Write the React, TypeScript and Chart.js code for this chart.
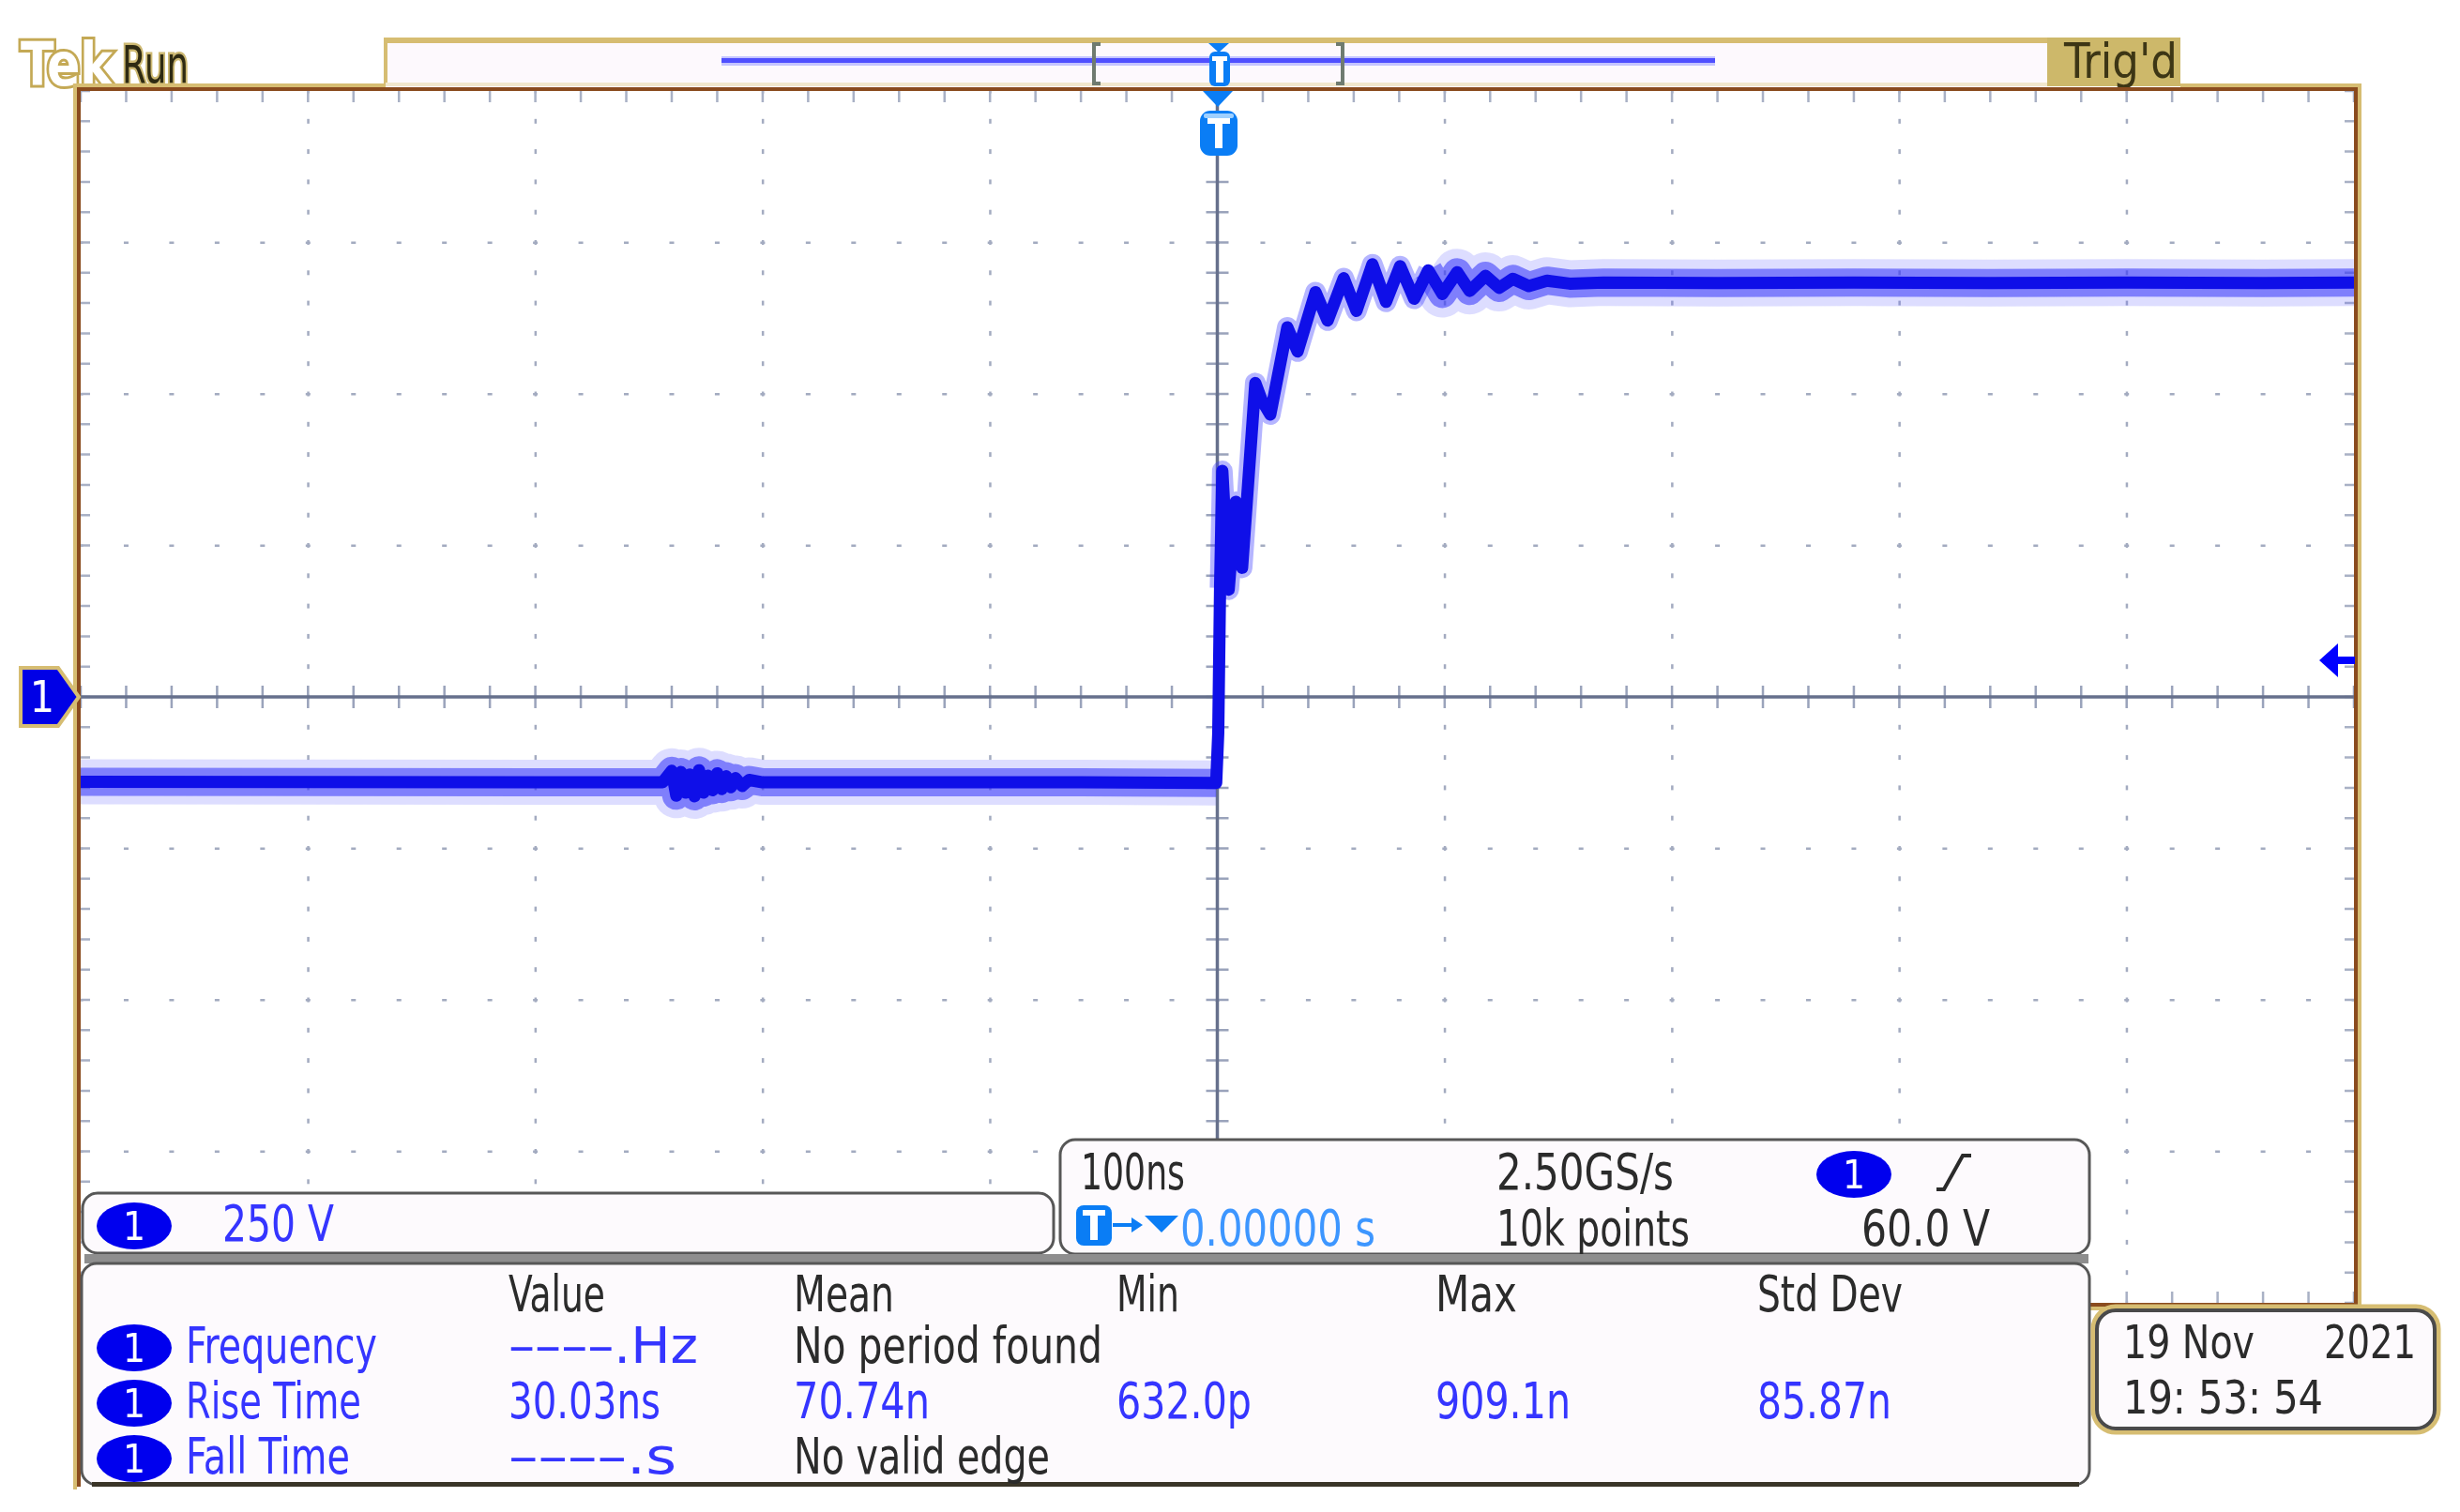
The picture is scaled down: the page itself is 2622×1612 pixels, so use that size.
import React, { useEffect, useRef } from 'react';
import { Chart, registerables } from 'chart.js';
Chart.register(...registerables);

// ---- axis setup (100 ns/div, 250 V/div) ----
const X_MIN = -500;
const X_MAX = 500;
const X_DIV = 100;
const Y_MIN = -1000;
const Y_MAX = 1000;
const Y_DIV = 250;
const TRIGGER_LEVEL = 60;

// ---- waveform (time in ns, volts) ----
const preTime = [-500, -300, -244, -240, -238, -236, -234, -232, -230, -228, -226, -224, -222, -220, -218, -216, -214, -212, -209, -206, -200, -150, -60, -0.5];
const preVolt = [-140, -141, -141, -122, -163, -124, -158, -128, -164, -121, -158, -130, -154, -126, -152, -131, -149, -134, -147, -137, -141, -141, -141, -142];

const edgeTime = [0.4, 1.2, 2.2, 5.0, 8.1, 10.9, 16.7, 19.5, 23.3, 30.8, 35.3, 43.2, 48.5, 55.6, 61.2, 68.2, 74.2, 80.4, 86.6, 92.8, 99, 105.5, 111, 118, 124, 130, 137, 145, 155];
const edgeVolt = [-60, 180, 373, 177, 322, 213, 518, 490, 466, 610, 570, 668, 621, 691, 637, 714, 652, 711, 657, 704, 665, 701, 670, 695, 675, 690, 678, 687, 682];

const postTime = [170, 220, 280, 340, 400, 460, 500];
const postVolt = [684, 683, 684, 683, 684, 683, 684];

// ---- readouts ----
const measHeaders = ['Value', 'Mean', 'Min', 'Max', 'Std Dev'];
const measLabels = ['Frequency', 'Rise Time', 'Fall Time'];
const measValue = ['––––.Hz', '30.03ns', '––––.s'];
const measMean = ['No period found', '70.74n', 'No valid edge'];
const measMin = ['', '632.0p', ''];
const measMax = ['', '909.1n', ''];
const measStd = ['', '85.87n', ''];
const chScale = '250 V';
const timeBase = '100ns';
const sampleRate = '2.50GS/s';
const trigPos = '0.00000 s';
const recLen = '10k points';
const trigLevelText = '60.0 V';
const dateText = '19 Nov';
const yearText = '2021';
const timeText = '19: 53: 54';

// ---- layout / style ----
const FONT = '"Liberation Sans Narrow", "DejaVu Sans Condensed", "Arial Narrow", sans-serif';
const DARK = '#2b2b2b';
const BLUE_TXT = '#3535ff';
const OVAL = '#0000ee';
const TBLUE = '#0a7df5';
const BROWN = '#8a4b1e';
const TAN = '#d6bd72';
const PANEL = '#fdfafd';
const PANEL_EDGE = '#575757';

const TEXT_W: Record<string, number> = {
  'Value': 103, 'Mean': 107, 'Min': 67, 'Max': 87, 'Std Dev': 155,
  'Frequency': 204, 'Rise Time': 187, 'Fall Time': 175,
  '––––.Hz': 202, 'No period found': 329, '30.03ns': 162, '70.74n': 145,
  '632.0p': 144, '909.1n': 144, '85.87n': 143, '––––.s': 179, 'No valid edge': 273,
  '250 V': 119, '100ns': 111, '2.50GS/s': 189, '0.00000 s': 208, '10k points': 206,
  '60.0 V': 137, '19 Nov': 140, '2021': 98, '19: 53: 54': 213, "Trig'd": 121,
};

const graticule = {
  id: 'graticule',
  beforeDatasetsDraw(chart: any) {
    const { ctx, chartArea: a, scales } = chart;
    const x = scales.x;
    const y = scales.y;
    const x0 = x.getPixelForValue(0);
    const y0 = y.getPixelForValue(0);
    ctx.save();
    ctx.fillStyle = '#ffffff';
    ctx.fillRect(a.left, a.top, a.right - a.left, a.bottom - a.top);
    ctx.fillStyle = '#a3abc0';
    // dotted vertical divisions
    for (let t = X_MIN + X_DIV; t < X_MAX; t += X_DIV) {
      if (t === 0) continue;
      const px = x.getPixelForValue(t);
      for (let v = Y_MIN; v <= Y_MAX; v += Y_DIV / 5) {
        const py = y.getPixelForValue(v);
        ctx.fillRect(px - 1, py - 2.5, 2.5, 5);
      }
    }
    // dotted horizontal divisions
    for (let v = Y_MIN + Y_DIV; v < Y_MAX; v += Y_DIV) {
      if (v === 0) continue;
      const py = y.getPixelForValue(v);
      for (let t = X_MIN; t <= X_MAX; t += X_DIV / 5) {
        const px = x.getPixelForValue(t);
        ctx.fillRect(px - 2.5, py - 1, 5, 2.5);
      }
    }
    // edge ticks
    ctx.strokeStyle = '#a9b1c5';
    ctx.lineWidth = 2.5;
    ctx.beginPath();
    for (let t = X_MIN; t <= X_MAX; t += X_DIV / 5) {
      const px = x.getPixelForValue(t);
      ctx.moveTo(px, a.top); ctx.lineTo(px, a.top + 12);
      ctx.moveTo(px, a.bottom); ctx.lineTo(px, a.bottom - 12);
    }
    for (let v = Y_MIN; v <= Y_MAX; v += Y_DIV / 5) {
      const py = y.getPixelForValue(v);
      ctx.moveTo(a.left, py); ctx.lineTo(a.left + 10, py);
      ctx.moveTo(a.right, py); ctx.lineTo(a.right - 10, py);
    }
    ctx.stroke();
    // crosshair ticks
    ctx.strokeStyle = '#9aa3bb';
    ctx.beginPath();
    for (let t = X_MIN; t <= X_MAX; t += X_DIV / 5) {
      const px = x.getPixelForValue(t);
      ctx.moveTo(px, y0 - 12); ctx.lineTo(px, y0 + 12);
    }
    for (let v = Y_MIN; v <= Y_MAX; v += Y_DIV / 5) {
      const py = y.getPixelForValue(v);
      ctx.moveTo(x0 - 12, py); ctx.lineTo(x0 + 12, py);
    }
    ctx.stroke();
    // crosshair
    ctx.strokeStyle = '#66708c';
    ctx.lineWidth = 3.5;
    ctx.beginPath();
    ctx.moveTo(a.left, y0); ctx.lineTo(a.right, y0);
    ctx.moveTo(x0, a.top); ctx.lineTo(x0, a.bottom);
    ctx.stroke();
    ctx.restore();
  },
};

type TP = { x: number; y: number; s?: number; c?: string; w?: number; anchor?: string; bold?: boolean; children: string; stroke?: string; sw?: number };
const Tx = ({ x, y, s = 53, c = DARK, w, anchor, bold, children, stroke, sw }: TP) => (
  <text
    x={x}
    y={y}
    fontSize={s}
    fill={c}
    fontFamily={FONT}
    fontWeight={bold ? 'bold' : 'normal'}
    textAnchor={anchor || 'start'}
    textLength={w}
    lengthAdjust={w ? 'spacingAndGlyphs' : undefined}
    stroke={stroke}
    strokeWidth={sw}
    paintOrder={stroke ? 'stroke' : undefined}
  >
    {children}
  </text>
);

const Oval = ({ cx, cy }: { cx: number; cy: number }) => (
  <g>
    <ellipse cx={cx} cy={cy} rx={40} ry={25} fill={OVAL} />
    <Tx x={cx} y={cy + 15} s={42} c="#ffffff" anchor="middle">1</Tx>
  </g>
);

export default function App() {
  const ref = useRef<HTMLCanvasElement>(null);

  useEffect(() => {
    const canvas = ref.current;
    if (!canvas) return;
    const toPts = (ts: number[], vs: number[]) => ts.map((t, i) => ({ x: t, y: vs[i] }));
    const main = toPts([...preTime, ...edgeTime, ...postTime], [...preVolt, ...edgeVolt, ...postVolt]);
    const pre = toPts(preTime, preVolt);
    const ringIdx = edgeTime.findIndex((t) => t >= 92);
    const edgeHalo = toPts(edgeTime.slice(1, ringIdx + 1), edgeVolt.slice(1, ringIdx + 1));
    const post = toPts([...edgeTime.slice(ringIdx), ...postTime], [...edgeVolt.slice(ringIdx), ...postVolt]);

    const base = { pointRadius: 0, tension: 0, fill: false, clip: 0, borderCapStyle: 'butt', borderJoinStyle: 'round' };
    const chart = new Chart(canvas, {
      type: 'line',
      data: {
        datasets: [
          { ...base, label: 'CH1', data: main, borderColor: '#0f0fe8', borderWidth: 13, order: 0 },
          { ...base, label: 'pre-mid', data: pre, borderColor: 'rgba(50,50,250,0.55)', borderWidth: 30, order: 2 },
          { ...base, label: 'pre-outer', data: pre, borderColor: 'rgba(100,100,255,0.22)', borderWidth: 48, order: 3 },
          { ...base, label: 'edge-halo', data: edgeHalo, borderColor: 'rgba(60,60,255,0.38)', borderWidth: 22, order: 2 },
          { ...base, label: 'post-mid', data: post, borderColor: 'rgba(50,50,250,0.55)', borderWidth: 30, order: 2 },
          { ...base, label: 'post-outer', data: post, borderColor: 'rgba(100,100,255,0.22)', borderWidth: 50, order: 3 },
        ] as any,
      },
      options: {
        responsive: false,
        animation: false,
        devicePixelRatio: 1,
        events: [],
        layout: { padding: { left: 86, right: 113, top: 97, bottom: 223 } },
        scales: {
          x: { type: 'linear', min: X_MIN, max: X_MAX, display: false },
          y: { type: 'linear', min: Y_MIN, max: Y_MAX, display: false },
        },
        plugins: { legend: { display: false }, tooltip: { enabled: false } },
      } as any,
      plugins: [graticule as any],
    });
    return () => chart.destroy();
  }, []);

  const colX = [542, 846, 1190, 1530, 1873];
  const rowBase = [1453, 1512, 1571];
  const rowOval = [1437, 1496, 1555];
  const isDark = (s: string) => s.startsWith('No');

  return (
    <div style={{ position: 'absolute', left: 0, top: 0, width: 2622, height: 1612, background: '#ffffff', overflow: 'hidden' }}>
      <canvas ref={ref} width={2622} height={1612} style={{ position: 'absolute', left: 0, top: 0, width: 2622, height: 1612 }} />
      <svg width={2622} height={1612} style={{ position: 'absolute', left: 0, top: 0 }}>
        {/* Tek Run */}
        <Tx x={22} y={91} s={64} c="#ffffff" w={98} bold stroke="#c4a955" sw={6}>Tek</Tx>
        <Tx x={130} y={88} s={55} c="#2e2a12" w={71} stroke="#cdb973" sw={5}>Run</Tx>

        {/* record bar */}
        <rect x={411} y={42} width={1771} height={50} fill="#fdf9fd" />
        <rect x={411} y={40} width={1913} height={6} fill={TAN} />
        <rect x={409} y={40} width={4} height={52} fill={TAN} />
        <rect x={411} y={88} width={1771} height={4} fill="#f1e7cd" />
        <rect x={769} y={60} width={1059} height={10} fill="#c4c4ff" />
        <rect x={769} y={62} width={1059} height={5} fill="#4f4fff" />
        <path d="M1173 47 H1166 V89 H1173" stroke="#6f7b70" strokeWidth={4} fill="none" />
        <path d="M1424 47 H1431 V89 H1424" stroke="#6f7b70" strokeWidth={4} fill="none" />
        <polygon points="1288,46 1310,46 1299,56" fill={TBLUE} />
        <rect x={1289} y={55} width={22} height={37} rx={6} fill={TBLUE} />
        <rect x={1296} y={62} width={8} height={26} fill="#ffffff" />
        <rect x={1292} y={60} width={16} height={5} fill="#ffffff" />

        {/* Trig'd */}
        <rect x={2182} y={40} width={142} height={52} fill="#cdb86a" />
        <Tx x={2200} y={83} s={52} c="#3d3615" w={121}>Trig'd</Tx>

        {/* frame */}
        <rect x={78} y={89} width={333} height={5} fill={TAN} />
        <rect x={2324} y={89} width={192} height={5} fill={TAN} />
        <rect x={78} y={89} width={4} height={1499} fill={TAN} />
        <rect x={2513} y={89} width={4} height={1308} fill={TAN} />
        <rect x={2227} y={1393} width={290} height={4} fill={TAN} />
        <rect x={82} y={93} width={2431} height={4} fill={BROWN} />
        <rect x={82} y={93} width={4} height={1492} fill={BROWN} />
        <rect x={2509} y={93} width={4} height={1300} fill={BROWN} />
        <rect x={2227} y={1389} width={286} height={4} fill={BROWN} />

        {/* trigger position marker */}
        <polygon points="1282,97 1314,97 1298,114" fill={TBLUE} />
        <rect x={1279} y={118} width={40} height={48} rx={11} fill={TBLUE} />
        <rect x={1283} y={121} width={32} height={5} rx={2} fill="#9fd0ff" />
        <rect x={1295} y={128} width={8} height={30} fill="#ffffff" />
        <rect x={1287} y={126} width={24} height={6} fill="#ffffff" />

        {/* channel 1 ground marker */}
        <polygon points="22,712 62,712 84,743 62,774 22,774" fill="#0000e6" stroke={TAN} strokeWidth={4} />
        <Tx x={45} y={759} s={46} c="#ffffff" anchor="middle">1</Tx>

        {/* trigger level arrow */}
        <polygon points="2472,704 2492,686 2492,722" fill="#0000ff" />
        <rect x={2490} y={700} width={20} height={8} fill="#0000ff" />

        {/* channel scale panel */}
        <rect x={88} y={1272} width={1035} height={64} rx={16} fill={PANEL} stroke={PANEL_EDGE} strokeWidth={3} />
        <Oval cx={143} cy={1307} />
        <Tx x={237} y={1323} c={BLUE_TXT} w={TEXT_W[chScale]}>{chScale}</Tx>

        {/* timebase panel */}
        <rect x={1130} y={1215} width={1097} height={122} rx={16} fill={PANEL} stroke={PANEL_EDGE} strokeWidth={3} />
        <Tx x={1152} y={1268} w={TEXT_W[timeBase]}>{timeBase}</Tx>
        <Tx x={1595} y={1268} w={TEXT_W[sampleRate]}>{sampleRate}</Tx>
        <Oval cx={1976} cy={1252} />
        <path d="M2064 1268 H2072 L2092 1232 H2101" stroke={DARK} strokeWidth={4} fill="none" />
        <rect x={1147} y={1285} width={38} height={43} rx={8} fill={TBLUE} />
        <rect x={1162} y={1292} width={8} height={30} fill="#ffffff" />
        <rect x={1154} y={1290} width={24} height={6} fill="#ffffff" />
        <path d="M1186 1306 H1208" stroke={TBLUE} strokeWidth={4} />
        <polygon points="1206,1298 1218,1306 1206,1314" fill={TBLUE} />
        <polygon points="1220,1296 1256,1296 1238,1314" fill={TBLUE} />
        <Tx x={1258} y={1328} c="#3d96ff" w={TEXT_W[trigPos]}>{trigPos}</Tx>
        <Tx x={1595} y={1328} w={TEXT_W[recLen]}>{recLen}</Tx>
        <Tx x={1984} y={1328} w={TEXT_W[trigLevelText]}>{trigLevelText}</Tx>

        {/* gray separator */}
        <rect x={90} y={1337} width={2136} height={10} fill="#8e8e8e" />

        {/* measurement panel */}
        <rect x={87} y={1347} width={2140} height={236} rx={16} fill={PANEL} stroke={PANEL_EDGE} strokeWidth={3} />
        <rect x={98} y={1580} width={2118} height={5} fill="#3a3528" />
        {measHeaders.map((h, i) => (
          <Tx key={h} x={colX[i]} y={1398} w={TEXT_W[h]}>{h}</Tx>
        ))}
        {measLabels.map((lab, r) => (
          <g key={lab}>
            <Oval cx={143} cy={rowOval[r]} />
            <Tx x={198} y={rowBase[r]} c={BLUE_TXT} w={TEXT_W[lab]}>{lab}</Tx>
            {[measValue[r], measMean[r], measMin[r], measMax[r], measStd[r]].map((v, i) =>
              v ? (
                <Tx key={i} x={colX[i]} y={rowBase[r]} c={isDark(v) ? DARK : BLUE_TXT} w={TEXT_W[v]}>{v}</Tx>
              ) : null
            )}
          </g>
        ))}

        {/* date box */}
        <rect x={2231} y={1393} width={368} height={134} rx={24} fill="none" stroke={TAN} strokeWidth={5} />
        <rect x={2235} y={1397} width={360} height={126} rx={20} fill={PANEL} stroke="#4a4a4a" strokeWidth={4} />
        <Tx x={2263} y={1448} s={50} w={TEXT_W[dateText]}>{dateText}</Tx>
        <Tx x={2477} y={1448} s={50} w={TEXT_W[yearText]}>{yearText}</Tx>
        <Tx x={2263} y={1507} s={50} w={TEXT_W[timeText]}>{timeText}</Tx>
      </svg>
    </div>
  );
}
